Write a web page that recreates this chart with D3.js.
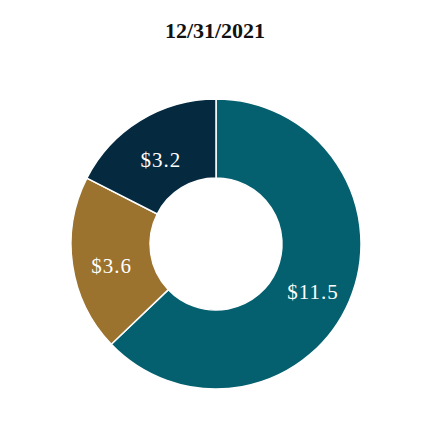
<!DOCTYPE html>
<html>
<head>
<meta charset="utf-8">
<script src="https://cdn.jsdelivr.net/npm/d3@7"></script>
<style>
  body { margin: 0; background: #fff; }
</style>
</head>
<body>
<svg id="chart" width="430" height="430"></svg>
<script>
const title = '12/31/2021';
const categories = ['A', 'B', 'C'];
const values = [11.5, 3.6, 3.2];
const colors = ['#04606e', '#9b722e', '#052a40'];

const width = 430;
const height = 430;
const cx = 216;
const cy = 244;
const outerR = 145;
const innerR = 66;

const svg = d3.select('#chart');

svg.append('text')
  .attr('x', width / 2)
  .attr('y', 38)
  .attr('text-anchor', 'middle')
  .attr('font-family', '"Liberation Serif", "Times New Roman", serif')
  .attr('font-weight', 'bold')
  .attr('font-size', 22)
  .attr('fill', '#111')
  .text(title);

const data = categories.map((c, i) => ({ name: c, value: values[i], color: colors[i] }));

const pie = d3.pie()
  .value(d => d.value)
  .sort(null);

const arc = d3.arc()
  .innerRadius(innerR)
  .outerRadius(outerR);

const g = svg.append('g')
  .attr('transform', `translate(${cx},${cy})`);

const arcs = pie(data);

g.selectAll('path')
  .data(arcs)
  .join('path')
  .attr('d', arc)
  .attr('fill', d => d.data.color)
  .attr('stroke', '#fff')
  .attr('stroke-width', 1.5);

// labels sit a bit below the centroid in the original
g.selectAll('text')
  .data(arcs)
  .join('text')
  .attr('transform', d => {
    const [x, y] = arc.centroid(d);
    return `translate(${x},${y + 6})`;
  })
  .attr('text-anchor', 'middle')
  .attr('dy', '0.35em')
  .attr('font-family', '"Liberation Serif", "Times New Roman", serif')
  .attr('font-size', 21)
  .attr('letter-spacing', 1)
  .attr('fill', '#fff')
  .text(d => `$${d.data.value.toFixed(1)}`);
</script>
</body>
</html>
